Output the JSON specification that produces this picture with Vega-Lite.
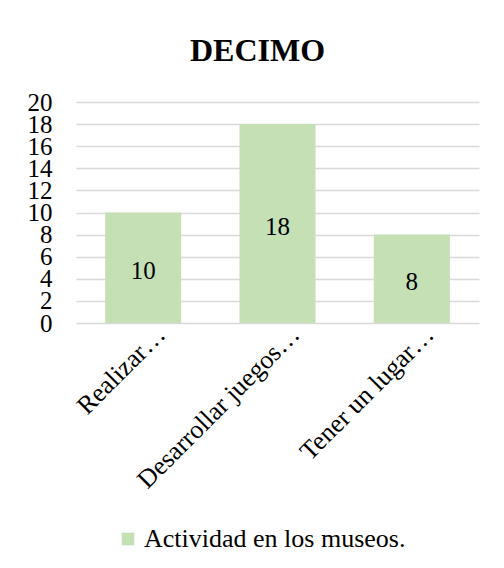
{
  "$schema": "https://vega.github.io/schema/vega-lite/v6.json",
  "width": 403,
  "height": 221,
  "autosize": {"type": "none"},
  "padding": {"left": 76, "top": 102, "right": 25, "bottom": 245},
  "background": "white",
  "title": {
    "text": "DECIMO",
    "font": "Liberation Serif",
    "fontSize": 32,
    "fontWeight": "bold",
    "color": "#000000",
    "anchor": "middle",
    "dx": -20,
    "offset": 22
  },
  "config": {
    "view": {"stroke": null},
    "font": "Liberation Serif"
  },
  "data": {
    "values": [
      {"cat": "Realizar…", "value": 10, "serie": "Actividad en los museos."},
      {"cat": "Desarrollar juegos…", "value": 18, "serie": "Actividad en los museos."},
      {"cat": "Tener un lugar…", "value": 8, "serie": "Actividad en los museos."}
    ]
  },
  "encoding": {
    "x": {
      "field": "cat",
      "type": "nominal",
      "sort": null,
      "scale": {"paddingInner": 0.434, "paddingOuter": 0.217},
      "axis": {
        "title": null,
        "labelAngle": -45,
        "labelAlign": "right",
        "labelBaseline": "middle",
        "labelFont": "Liberation Serif",
        "labelFontSize": 26,
        "labelColor": "#000000",
        "labelOffset": 18,
        "labelPadding": 7,
        "ticks": false,
        "domain": false,
        "labelLimit": 400
      }
    }
  },
  "layer": [
    {
      "mark": {"type": "bar"},
      "encoding": {
        "y": {
          "field": "value",
          "type": "quantitative",
          "scale": {"domain": [0, 20], "nice": false},
          "axis": {
            "title": null,
            "values": [0, 2, 4, 6, 8, 10, 12, 14, 16, 18, 20],
            "labelFont": "Liberation Serif",
            "labelFontSize": 25,
            "labelColor": "#000000",
            "labelPadding": 24,
            "ticks": false,
            "domain": false,
            "grid": true,
            "gridColor": "#d9d9d9",
            "gridWidth": 1.3,
            "labelOverlap": false
          }
        },
        "color": {
          "field": "serie",
          "type": "nominal",
          "scale": {"range": ["#c5e0b4"]},
          "legend": {
            "title": null,
            "orient": "none",
            "legendX": 39,
            "legendY": 424,
            "symbolType": "square",
            "symbolSize": 160,
            "symbolStrokeWidth": 0,
            "labelFont": "Liberation Serif",
            "labelFontSize": 26,
            "labelColor": "#000000",
            "labelLimit": 400,
            "labelOffset": 3
          }
        }
      }
    },
    {
      "mark": {"type": "text", "font": "Liberation Serif", "fontSize": 25, "color": "#000000", "baseline": "middle", "dy": 3},
      "encoding": {
        "y": {
          "field": "value",
          "type": "quantitative",
          "scale": {"domain": [0, 40], "nice": false},
          "axis": null
        },
        "text": {"field": "value", "type": "quantitative"}
      }
    }
  ],
  "resolve": {"scale": {"y": "independent"}}
}
